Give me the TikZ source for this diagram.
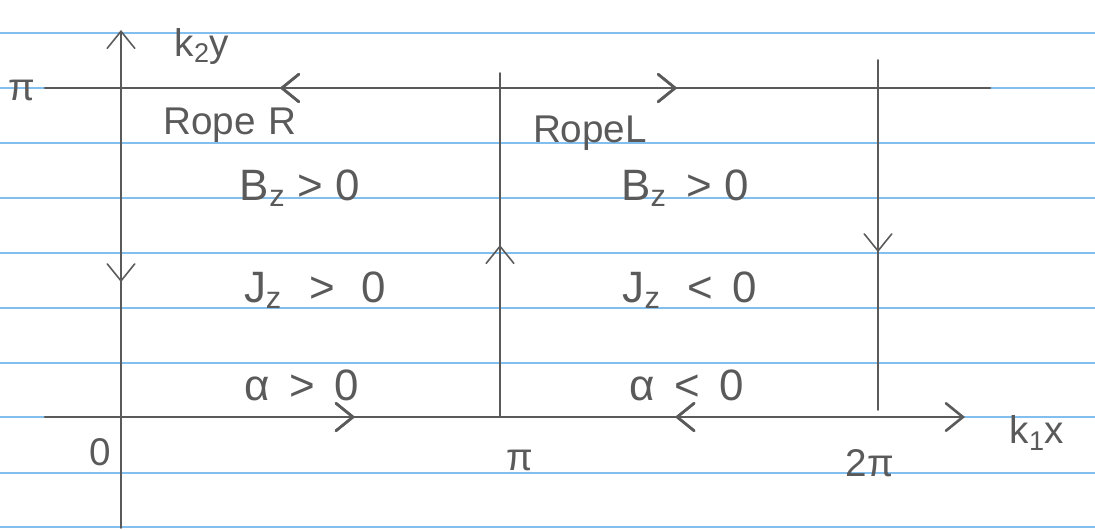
\documentclass[tikz,border=0pt]{standalone}
\usepackage{fontspec}
\setmainfont{Liberation Sans}
\usetikzlibrary{arrows.meta,decorations.markings}
\definecolor{pencil}{RGB}{90,90,90}
\definecolor{ruleblue}{RGB}{130,190,238}
\tikzset{
  handtip/.tip={Straight Barb[length=0.34cm,width=0.55cm,line cap=round]},
  handback/.tip={Straight Barb[length=0.34cm,width=0.55cm,line cap=round,reversed]}
}
\begin{document}
\begin{tikzpicture}[x=0.02cm, y=-0.02cm,
  every node/.style={text=pencil, inner sep=1pt},
  pen/.style={draw=pencil, line width=1.5pt, line cap=round},
  thinpen/.style={draw=pencil, line width=0.9pt, line cap=round},
  paperrule/.style={draw=ruleblue, line width=1pt},
  flow/.style={postaction={decorate}, decoration={markings, mark=at position #1 with {\arrow{handtip}}}},
  backflow/.style={postaction={decorate}, decoration={markings, mark=at position #1 with {\arrow{handback}}}},
  big/.style={font=\fontsize{25}{29}\selectfont},
  small/.style={font=\fontsize{22}{26}\selectfont}]

	\useasboundingbox (0,0) rectangle (1095,529);

	% Lined paper
	\foreach \y in {33,88,143,198,253,308,363,417,473,527}
		\draw[paperrule] (0,\y) -- (1095,\y);

	% Axes and boundaries
	\coordinate (ybot) at (121,528);
	\coordinate (ytop) at (121,30);
	\coordinate (pil) at (45,88);
	\coordinate (pir) at (990,88);
	\coordinate (xl) at (45,417);
	\coordinate (xr) at (965,417);
	\coordinate (mbot) at (500,417);
	\coordinate (mtop) at (500,73);
	\coordinate (rtop) at (878,60);
	\coordinate (rbot) at (878,410);

	\draw[thinpen, -{handtip}, backflow=0.532] (ybot) -- (ytop);
	\draw[pen, backflow=0.27, flow=0.669] (pil) -- (pir);
	\draw[pen, -{handtip}, flow=0.337, backflow=0.707] (xl) -- (xr);
	\draw[thinpen, flow=0.5] (mbot) -- (mtop);
	\draw[thinpen, flow=0.549] (rtop) -- (rbot);

	% Axis labels
	\node[small] (ky) at (202,46) {k\textsubscript{2}y};
	\node[small] (kx) at (1037,433) {k\textsubscript{1}x};
	\node[small] (pitop) at (22,90) {π};
	\node[small] (zero) at (100,452) {0};
	\node[small] (pimid) at (520,460) {π};
	\node[small] (twopi) at (870,463) {2π};

	% Rope R
	\node[small] (roper) at (230,125) {Rope\,\,R};
	\node[big] (bzr) at (300,188) {B\textsubscript{z} > 0};
	\node[big] (jzr) at (315,290) {J\textsubscript{z}\,\, >\,\, 0};
	\node[big] (alr) at (302,385) {α\, >\, 0};

	% Rope L
	\node[small] (ropel) at (590,133) {RopeL};
	\node[big] (bzl) at (685,188) {B\textsubscript{z}\, > 0};
	\node[big] (jzl) at (690,290) {J\textsubscript{z}\,\, <\, 0};
	\node[big] (all) at (687,385) {α\, <\, 0};

\end{tikzpicture}
\end{document}
